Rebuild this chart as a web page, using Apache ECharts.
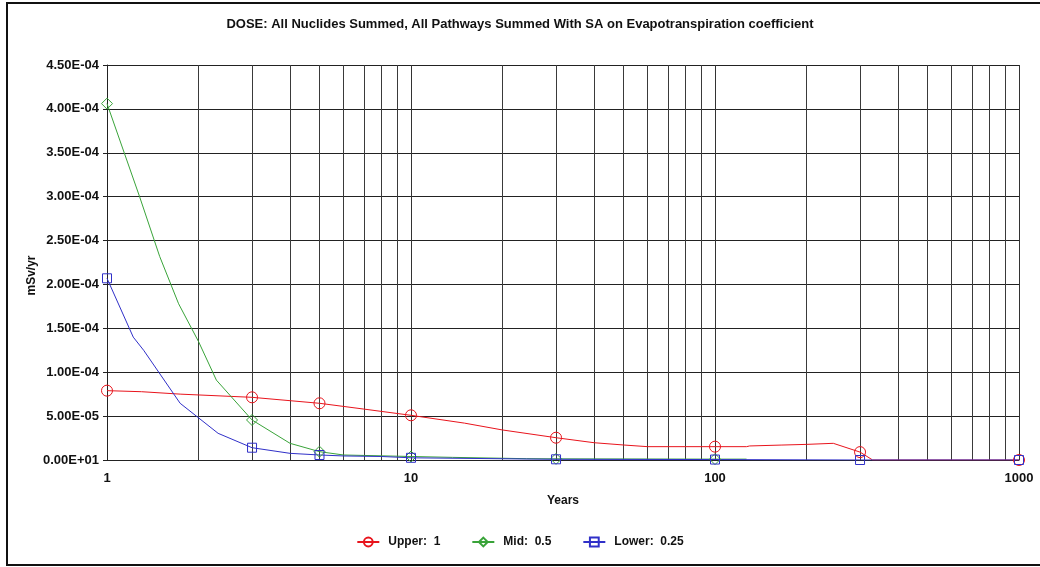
<!DOCTYPE html>
<html>
<head>
<meta charset="utf-8">
<script src="https://cdn.jsdelivr.net/npm/echarts@6/dist/echarts.min.js"></script>
<style>
  html, body { margin: 0; padding: 0; background: #fff; }
  #chart { width: 1040px; height: 567px; }
</style>
</head>
<body>
<div id="chart"></div>
<script>
// Years at which each curve is sampled (log scale on the x axis)
const upperYears = [1, 1.3, 1.75, 3, 5, 7, 10, 15, 20, 30, 40, 50, 60, 100, 127, 130, 165, 200, 245, 300, 330, 1000];
const upperDose  = [7.9e-5, 7.78e-5, 7.5e-5, 7.14e-5, 6.46e-5, 5.8e-5, 5.09e-5, 4.2e-5, 3.42e-5, 2.54e-5, 1.97e-5, 1.71e-5, 1.52e-5, 1.52e-5, 1.52e-5, 1.6e-5, 1.7e-5, 1.78e-5, 1.9e-5, 9e-6, 0, 0];

const midYears = [1, 1.28, 1.49, 1.72, 2, 2.29, 3, 4, 5, 6, 10, 13.7, 24, 30, 100, 127];
const midDose  = [4.06e-4, 3.0e-4, 2.32e-4, 1.78e-4, 1.35e-4, 9.1e-5, 4.56e-5, 1.9e-5, 9.5e-6, 5.7e-6, 4e-6, 3e-6, 1.5e-6, 1.3e-6, 1e-6, 1e-6];

const lowerYears = [1, 1.22, 1.32, 1.74, 2.32, 3, 4, 5, 6, 8, 10, 30, 100, 300, 1000];
const lowerDose  = [2.07e-4, 1.4e-4, 1.25e-4, 6.46e-5, 3.04e-5, 1.4e-5, 7.6e-6, 5.7e-6, 4.6e-6, 4e-6, 2.5e-6, 8e-7, 5e-7, 0, 0];

// Years that carry a marker symbol
const markerYears = [1, 3, 5, 10, 30, 100, 300, 1000];

// Axis labels and grid positions
const xTickLabels = ['1', '10', '100', '1000'];
const yTickLabels = ['0.00E+01', '5.00E-05', '1.00E-04', '1.50E-04', '2.00E-04', '2.50E-04',
                     '3.00E-04', '3.50E-04', '4.00E-04', '4.50E-04'];
const minorYears = [2, 3, 4, 5, 6, 7, 8, 9, 20, 30, 40, 50, 60, 70, 80, 90,
                    200, 300, 400, 500, 600, 700, 800, 900];

const seriesNames = ['Upper:  1', 'Mid:  0.5', 'Lower:  0.25'];

const FONT = "'Liberation Sans', Arial, sans-serif";

function toData(years, dose) {
  return years.map((x, i) => {
    const item = { value: [x, dose[i]] };
    if (markerYears.indexOf(x) < 0) item.symbol = 'none';
    return item;
  });
}

function lineSeries(name, years, dose, color, symbol, size) {
  return {
    name: name,
    type: 'line',
    data: toData(years, dose),
    symbol: symbol,
    symbolSize: size,
    showSymbol: true,
    smooth: false,
    clip: true,
    lineStyle: { color: color, width: 1 },
    itemStyle: { color: 'rgba(255,255,255,0)', borderColor: color, borderWidth: 1 },
    emphasis: { disabled: true },
    z: 3
  };
}

const chart = echarts.init(document.getElementById('chart'), null, { renderer: 'canvas' });

chart.setOption({
  animation: false,
  backgroundColor: '#fff',
  textStyle: { fontFamily: FONT },
  graphic: [{
    type: 'rect',
    shape: { x: 7, y: 3, width: 1040, height: 562 },
    style: { fill: 'none', stroke: '#111', lineWidth: 2 },
    silent: true,
    z: 100
  }],
  title: {
    text: 'DOSE: All Nuclides Summed, All Pathways Summed With SA on Evapotranspiration coefficient',
    left: 'center',
    top: 18,
    padding: 0,
    textStyle: { fontFamily: FONT, fontSize: 13, fontWeight: 'bold', color: '#111' }
  },
  legend: {
    data: seriesNames,
    bottom: 14,
    left: 'center',
    itemWidth: 22,
    itemHeight: 11,
    itemGap: 31,
    textStyle: { fontFamily: FONT, fontSize: 12, fontWeight: 'bold', color: '#111', padding: [0, 0, 0, 4] },
    selectedMode: false
  },
  grid: { left: 107, right: 21, top: 65, bottom: 107, containLabel: false, outerBoundsMode: 'none' },
  xAxis: {
    type: 'log',
    logBase: 10,
    min: 1,
    max: 1000,
    name: 'Years',
    nameLocation: 'middle',
    nameGap: 35,
    nameMoveOverlap: false,
    nameTextStyle: { fontFamily: FONT, fontSize: 12, fontWeight: 'bold', color: '#111' },
    axisLine: { show: true, lineStyle: { color: '#222', width: 1 } },
    axisTick: { show: false },
    axisLabel: {
      margin: 12,
      fontFamily: FONT, fontSize: 13, fontWeight: 'bold', color: '#111',
      formatter: v => xTickLabels[Math.round(Math.log10(v))]
    },
    splitLine: { show: true, lineStyle: { color: '#333', width: 1 } },
    minorTick: { show: false },
    minorSplitLine: { show: false }
  },
  yAxis: {
    type: 'value',
    min: 0,
    max: 4.5e-4,
    interval: 5e-5,
    name: 'mSv/yr',
    nameLocation: 'middle',
    nameGap: 69,
    nameMoveOverlap: false,
    nameTextStyle: { fontFamily: FONT, fontSize: 12, fontWeight: 'bold', color: '#111', padding: [0, 26, 0, 0] },
    axisLine: { show: true, lineStyle: { color: '#222', width: 1 } },
    axisTick: { show: true, length: 4, lineStyle: { color: '#222' } },
    axisLabel: {
      margin: 8,
      fontFamily: FONT, fontSize: 13, fontWeight: 'bold', color: '#111',
      formatter: v => yTickLabels[Math.round(v / 5e-5)]
    },
    splitLine: { show: true, lineStyle: { color: '#222', width: 1 } }
  },
  series: [
    {
      // minor vertical grid lines at 2..9 of every decade
      name: 'grid',
      type: 'line',
      data: [],
      silent: true,
      z: 1,
      markLine: {
        silent: true,
        z: 1,
        symbol: ['none', 'none'],
        label: { show: false },
        lineStyle: { color: '#3a3a3a', width: 1, type: 'solid' },
        emphasis: { disabled: true },
        data: minorYears.map(v => ({ xAxis: v }))
      }
    },
    lineSeries(seriesNames[0], upperYears, upperDose, '#e8141c', 'circle', 11),
    lineSeries(seriesNames[1], midYears, midDose, '#39a339', 'diamond', 11),
    lineSeries(seriesNames[2], lowerYears, lowerDose, '#3030c8', 'rect', 9)
  ]
});
</script>
</body>
</html>
